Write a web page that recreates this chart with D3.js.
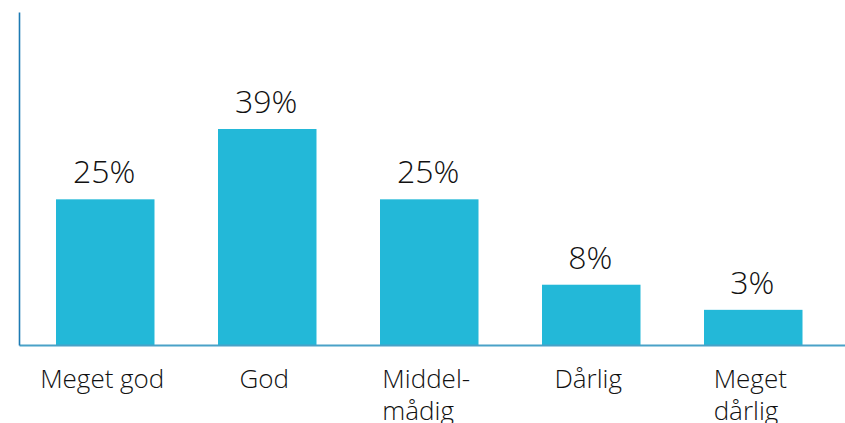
<!DOCTYPE html>
<html>
<head>
<meta charset="utf-8">
<script src="https://cdn.jsdelivr.net/npm/d3@7"></script>
<style>
  body { margin: 0; background: #fff; }
  text { font-family: "Open Sans", sans-serif; font-weight: 300; fill: #111; }
</style>
</head>
<body>
<svg id="chart" width="845" height="423"></svg>
<script>
const categories = ["Meget god", "God", "Middel-mådig", "Dårlig", "Meget dårlig"]
const categoryLines = [["Meget god"], ["God"], ["Middel-", "mådig"], ["Dårlig"], ["Meget", "dårlig"]]
const values = [25, 39, 25, 8, 3]
const valueLabels = ["25%", "39%", "25%", "8%", "3%"]

const barColor = '#23b8d8'
const baseY = 345
const axisX = 19

const svg = d3.select('#chart')

const x = d3.scaleBand()
    .domain(categories)
    .range([56, 802.5])
    .paddingInner(0.392)
    .paddingOuter(0)

// bars in the original are not drawn from zero, so the value scale starts a bit below 0
const y = d3.scaleLinear()
    .domain([-4, 39])
    .range([baseY, 129])

// bars
svg.selectAll('.bar')
    .data(values)
    .enter()
    .append('rect')
    .attr('class', 'bar')
    .attr('x', (_, i) => x(categories[i]))
    .attr('y', d => y(d))
    .attr('width', x.bandwidth())
    .attr('height', d => baseY - y(d))
    .style('fill', barColor)

// value labels
svg.selectAll('.val')
    .data(values)
    .enter()
    .append('text')
    .attr('class', 'val')
    .attr('x', (_, i) => x(categories[i]) + x.bandwidth() / 2 - 1)
    .attr('y', d => y(d) - 16)
    .attr('text-anchor', 'middle')
    .style('font-size', '32px')
    .text((_, i) => valueLabels[i])

// axes (lines only)
svg.append('g')
    .attr('transform', `translate(0,${baseY})`)
    .call(d3.axisBottom(d3.scaleLinear().range([axisX, 845])).ticks(0).tickSize(0).tickSizeOuter(0))
    .call(g => g.selectAll('.tick').remove())
    .call(g => g.select('.domain').attr('stroke', '#49a2c8').attr('stroke-width', 2))

svg.append('g')
    .attr('transform', `translate(${axisX},0)`)
    .call(d3.axisLeft(d3.scaleLinear().range([12, baseY])).ticks(0).tickSize(0).tickSizeOuter(0))
    .call(g => g.selectAll('.tick').remove())
    .call(g => g.select('.domain').attr('stroke', '#1d7ab3').attr('stroke-width', 1.6))

// category labels, left aligned block centred under bar
const labels = svg.selectAll('.cat')
    .data(categoryLines)
    .enter()
    .append('text')
    .attr('class', 'cat')
    .style('font-size', '26px')

labels.selectAll('tspan')
    .data(d => d)
    .enter()
    .append('tspan')
    .attr('dy', (_, j) => j === 0 ? 0 : 32)
    .text(d => d)

labels.each(function(d, i) {
    const t = d3.select(this)
    let w = 0
    t.selectAll('tspan').each(function() { w = Math.max(w, this.getComputedTextLength()) })
    const left = x(categories[i]) + x.bandwidth() / 2 - 3 - w / 2
    t.attr('y', 388)
    t.selectAll('tspan').attr('x', left)
})
</script>
</body>
</html>
